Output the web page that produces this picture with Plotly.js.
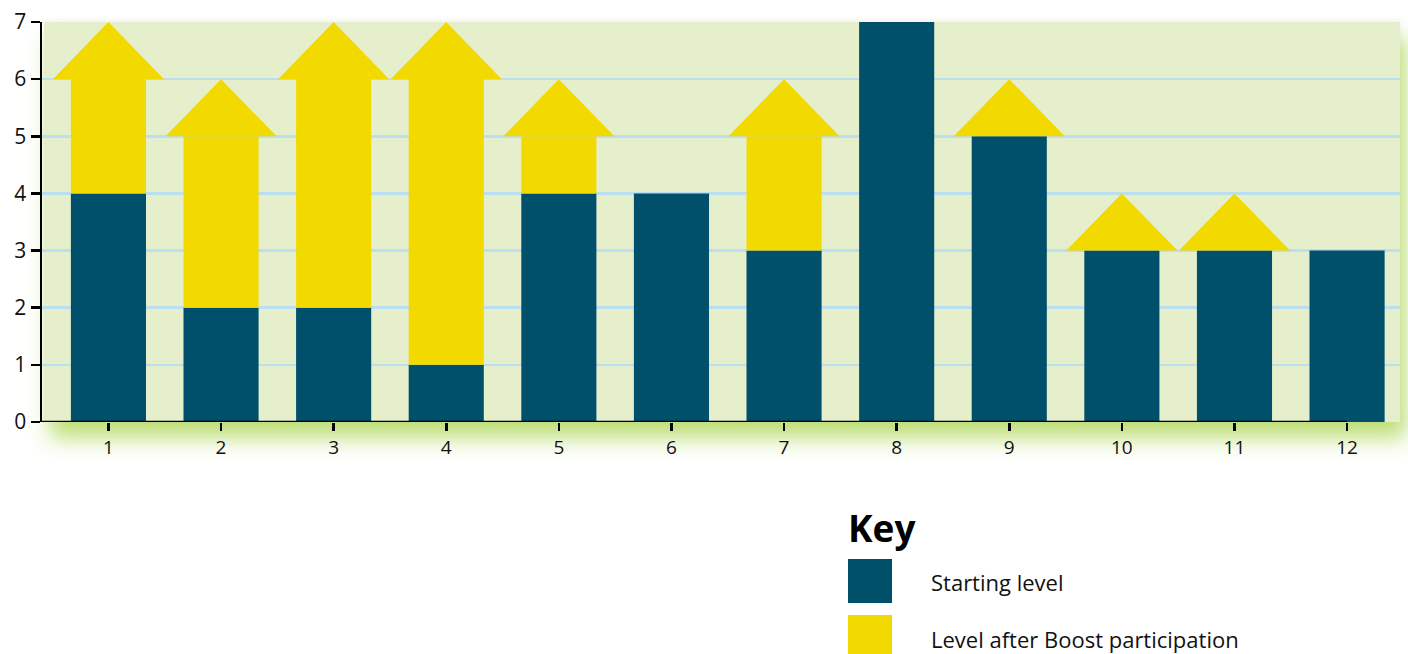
<!DOCTYPE html>
<html>
<head>
<meta charset="utf-8">
<script src="https://cdn.plot.ly/plotly-3.0.1.min.js"></script>
<style>
  html, body { margin: 0; padding: 0; background: #ffffff; }
  #wrap { position: relative; width: 1408px; height: 654px; }
  #glow { position: absolute; left: 44px; top: 22px; width: 1356px; height: 400px;
          box-shadow: 6px 16px 20px 0 rgba(186, 220, 112, 0.95), 0 -2px 4px rgba(0,0,0,0.04); background: #e6efcc; }
  #chart { position: absolute; left: 0; top: 0; width: 1408px; height: 654px; }
</style>
</head>
<body>
<div id="wrap">
  <div id="glow"></div>
  <div id="chart"></div>
</div>
<script>
const categories = [1, 2, 3, 4, 5, 6, 7, 8, 9, 10, 11, 12];
const startingLevel = [4, 2, 2, 1, 4, 4, 3, 7, 5, 3, 3, 3];
const levelAfterBoost = [7, 6, 7, 7, 6, 4, 6, 7, 6, 4, 4, 3];
const seriesNames = ['Starting level', 'Level after Boost participation'];

const BLUE = '#004f6b';
const YELLOW = '#f2d900';
const FONT = 'Open Sans, Lato, sans-serif';

const traces = [];

// starting level bars
traces.push({
  type: 'bar', x: categories, y: startingLevel, width: 0.667,
  marker: { color: BLUE, line: { width: 0 } }, hoverinfo: 'skip', showlegend: false
});

// arrow shafts (from start to one unit below the boosted level)
const shaftX = [], shaftBase = [], shaftLen = [];
categories.forEach((c, i) => {
  const s = startingLevel[i], a = levelAfterBoost[i];
  if (a > s && a - 1 > s) { shaftX.push(c); shaftBase.push(s); shaftLen.push(a - 1 - s); }
});
traces.push({
  type: 'bar', x: shaftX, y: shaftLen, base: shaftBase, width: 0.667,
  marker: { color: YELLOW, line: { width: 0 } }, hoverinfo: 'skip', showlegend: false
});

// arrow heads (triangles spanning one level)
categories.forEach((c, i) => {
  const s = startingLevel[i], a = levelAfterBoost[i];
  if (a > s) {
    traces.push({
      type: 'scatter', mode: 'lines', fill: 'toself', fillcolor: YELLOW,
      x: [c - 0.493, c, c + 0.493, c - 0.493],
      y: [a - 1, a, a - 1, a - 1],
      line: { width: 0, color: YELLOW }, hoverinfo: 'skip', showlegend: false
    });
  }
});

const layout = {
  width: 1408, height: 654,
  margin: { l: 42, r: 8, t: 22, b: 232 },
  paper_bgcolor: 'rgba(0,0,0,0)',
  plot_bgcolor: 'rgba(0,0,0,0)',
  barmode: 'overlay',
  showlegend: false,
  font: { family: FONT, color: '#111111' },
  xaxis: {
    range: [0.41, 12.47], tickvals: categories, ticktext: categories.map(String),
    showgrid: false, zeroline: false, showline: false,
    ticks: 'outside', ticklen: 8, tickwidth: 2.5, tickcolor: '#000000',
    tickfont: { size: 19, family: FONT, color: '#111111' }
  },
  yaxis: {
    range: [0, 7], dtick: 1, tick0: 0,
    showgrid: true, gridcolor: '#b9dff0', gridwidth: 2.5,
    zeroline: false, showline: true, linecolor: '#000000', linewidth: 2.5,
    ticks: 'outside', ticklen: 9, tickwidth: 2.5, tickcolor: '#000000',
    tickfont: { size: 21, family: FONT, color: '#111111' }
  },
  shapes: [
    { type: 'line', xref: 'x', yref: 'y', x0: 0.40, x1: 12, y0: 0, y1: 0,
      line: { color: '#000000', width: 2.5 }, layer: 'above' },
    { type: 'rect', xref: 'paper', yref: 'paper',
      x0: (848 - 42) / 1358, x1: (892 - 42) / 1358,
      y0: (422 - 603) / 400, y1: (422 - 559) / 400,
      fillcolor: BLUE, line: { width: 0 } },
    { type: 'rect', xref: 'paper', yref: 'paper',
      x0: (848 - 42) / 1358, x1: (892 - 42) / 1358,
      y0: (422 - 660) / 400, y1: (422 - 615) / 400,
      fillcolor: YELLOW, line: { width: 0 } }
  ],
  annotations: [
    { text: '<b>Key</b>', xref: 'paper', yref: 'paper', x: (846 - 42) / 1358, y: (422 - 527) / 400,
      xanchor: 'left', yanchor: 'middle', showarrow: false,
      font: { size: 37, family: FONT, color: '#000000' } },
    { text: seriesNames[0], xref: 'paper', yref: 'paper', x: (929 - 42) / 1358, y: (422 - 582) / 400,
      xanchor: 'left', yanchor: 'middle', showarrow: false,
      font: { size: 22, family: FONT, color: '#111111' } },
    { text: seriesNames[1], xref: 'paper', yref: 'paper', x: (929 - 42) / 1358, y: (422 - 639) / 400,
      xanchor: 'left', yanchor: 'middle', showarrow: false,
      font: { size: 22, family: FONT, color: '#111111' } }
  ]
};

Plotly.newPlot('chart', traces, layout, { displayModeBar: false, staticPlot: true });
</script>
</body>
</html>
